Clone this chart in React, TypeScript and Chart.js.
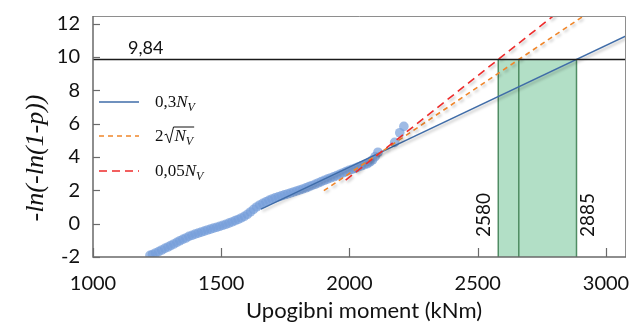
import { useEffect, useRef } from "react";
import { Chart, registerables } from "chart.js";

Chart.register(...registerables);

// Empirical points: bending moment (kNm) vs -ln(-ln(1-p))
const momentX = [
  1222, 1232, 1244, 1256, 1268, 1280, 1292, 1303, 1315, 1327,
  1338, 1350, 1362, 1374, 1386, 1398, 1410, 1422, 1434, 1446,
  1458, 1470, 1482, 1494, 1506, 1518, 1530, 1542, 1554, 1566,
  1578, 1590, 1602, 1614, 1626, 1638, 1650, 1662, 1674, 1686,
  1698, 1710, 1722, 1734, 1746, 1758, 1770, 1782, 1794, 1806,
  1818, 1830, 1842, 1854, 1866, 1878, 1890, 1902, 1914, 1926,
  1938, 1950, 1962, 1974, 1986, 1998, 2010, 2022, 2034, 2046,
  2058, 2070, 2080, 2090, 2100, 2111, 2176, 2196, 2212,
];
const lnY = [
  -1.9, -1.85, -1.76, -1.68, -1.58, -1.48, -1.4, -1.31, -1.22, -1.12,
  -1.03, -0.94, -0.86, -0.76, -0.7, -0.63, -0.57, -0.51, -0.45, -0.38,
  -0.33, -0.27, -0.22, -0.16, -0.1, -0.04, 0.03, 0.1, 0.18, 0.25,
  0.34, 0.44, 0.56, 0.7, 0.86, 1.0, 1.12, 1.22, 1.31, 1.4,
  1.48, 1.55, 1.61, 1.67, 1.73, 1.78, 1.84, 1.9, 1.96, 2.02,
  2.08, 2.15, 2.22, 2.29, 2.36, 2.44, 2.52, 2.6, 2.67, 2.74,
  2.81, 2.88, 2.96, 3.04, 3.12, 3.2, 3.26, 3.32, 3.4, 3.47,
  3.54, 3.6, 3.7, 3.82, 4.02, 4.28, 4.87, 5.45, 5.83,
];

// Fit lines (end points)
const fit03X = [1655, 3078];
const fit03Y = [0.87, 11.25];
const fitSqrtX = [1900, 2920];
const fitSqrtY = [1.98, 12.53];
const fit005X = [1985, 2800];
const fit005Y = [2.61, 12.52];

// Threshold and range
const limitY = 9.84;
const limitLabel = "9,84";
const rangeX = [2580, 2660, 2885];
const rangeLabels = ["2580", "2885"];

// Axes
const xMin = 1000;
const xMax = 3078;
const yMin = -2;
const yMax = 12.45;
const xTicks = [1000, 1500, 2000, 2500, 3000];
const yTicks = [-2, 0, 2, 4, 6, 8, 10, 12];

const xTitle = "Upogibni moment (kNm)";
const yTitle = "-ln(-ln(1-p))";

const SANS = "Lato, 'Open Sans', sans-serif";
const SERIF = "'Liberation Serif', 'DejaVu Serif', serif";

const BLUE = "#3f6ca8";
const ORANGE = "#f0862a";
const RED = "#ee2b2b";
const GREEN_FILL = "#b2dfc6";
const GREEN_LINE = "#4f8c63";

// target plot rectangle
const AREA = { left: 93, top: 16, right: 626, bottom: 257 };

export default function App() {
  const ref = useRef<HTMLCanvasElement>(null);

  useEffect(() => {
    const canvas = ref.current!;
    const seg = (xs: number[], ys: number[]) => xs.map((x, i) => ({ x, y: ys[i] }));

    const shadowPlugin = {
      id: "lineShadow",
      beforeDatasetDraw(chart: any, args: any) {
        const ds = chart.data.datasets[args.index];
        if (ds.shadow) {
          const ctx = chart.ctx;
          ctx.save();
          ctx.shadowColor = "rgba(0,0,0,0.28)";
          ctx.shadowBlur = 3;
          ctx.shadowOffsetX = 1.5;
          ctx.shadowOffsetY = 2;
        }
      },
      afterDatasetDraw(chart: any, args: any) {
        const ds = chart.data.datasets[args.index];
        if (ds.shadow) chart.ctx.restore();
      },
    };

    const drawMathLabel = (
      ctx: CanvasRenderingContext2D,
      x: number,
      y: number,
      kind: string
    ) => {
      const reg = `17px ${SERIF}`;
      const ital = `italic 17px ${SERIF}`;
      const sub = `italic 12px ${SERIF}`;
      ctx.fillStyle = "#111";
      ctx.textAlign = "left";
      ctx.textBaseline = "alphabetic";
      let cx = x;
      const put = (t: string, f: string, dy = 0) => {
        ctx.font = f;
        ctx.fillText(t, cx, y + dy);
        cx += ctx.measureText(t).width;
      };
      if (kind === "sqrt") {
        put("2", reg);
        const rx = cx + 1;
        ctx.strokeStyle = "#111";
        ctx.lineWidth = 1;
        ctx.beginPath();
        ctx.moveTo(rx, y - 6);
        ctx.lineTo(rx + 2, y - 7);
        ctx.lineTo(rx + 5, y + 2);
        ctx.lineTo(rx + 9, y - 14);
        cx = rx + 10;
        put("N", ital);
        put("V", sub, 4);
        ctx.lineTo(cx + 1, y - 14);
        ctx.stroke();
      } else {
        put(kind === "03" ? "0,3" : "0,05", reg);
        put("N", ital);
        put("V", sub, 4);
      }
    };

    const decorPlugin = {
      id: "decor",
      afterDatasetsDraw(chart: any) {
        const { ctx, chartArea: a, scales } = chart;
        const xs = scales.x;
        const ys = scales.y;
        ctx.save();

        // frame
        ctx.lineWidth = 1;
        ctx.strokeStyle = "#8e8e8e";
        ctx.beginPath();
        ctx.moveTo(a.left, a.top + 0.5);
        ctx.lineTo(a.right - 0.5, a.top + 0.5);
        ctx.lineTo(a.right - 0.5, a.bottom);
        ctx.stroke();
        ctx.lineWidth = 1.5;
        ctx.strokeStyle = "#6a6a6a";
        ctx.beginPath();
        ctx.moveTo(a.left, a.top);
        ctx.lineTo(a.left, a.bottom);
        ctx.lineTo(a.right, a.bottom);
        ctx.stroke();

        // inward ticks
        ctx.lineWidth = 1.2;
        for (const v of yTicks) {
          const py = Math.round(ys.getPixelForValue(v)) + 0.5;
          ctx.beginPath();
          ctx.moveTo(a.left, py);
          ctx.lineTo(a.left + 7, py);
          ctx.stroke();
        }
        for (const v of xTicks) {
          const px = Math.round(xs.getPixelForValue(v)) + 0.5;
          ctx.beginPath();
          ctx.moveTo(px, a.bottom);
          ctx.lineTo(px, a.bottom - 9);
          ctx.stroke();
        }

        // threshold label
        ctx.fillStyle = "#111";
        ctx.font = `18px ${SANS}`;
        ctx.textAlign = "left";
        ctx.textBaseline = "alphabetic";
        ctx.fillText(limitLabel, a.left + 35, ys.getPixelForValue(limitY) - 6);

        // rotated range labels
        ctx.font = `19px ${SANS}`;
        ctx.textAlign = "center";
        ctx.textBaseline = "middle";
        const ly = a.bottom - 42;
        const l1 = xs.getPixelForValue(rangeX[0]) - 14;
        const l2 = xs.getPixelForValue(rangeX[2]) + 11;
        for (const [lx, t] of [
          [l1, rangeLabels[0]],
          [l2, rangeLabels[1]],
        ] as [number, string][]) {
          ctx.save();
          ctx.translate(lx, ly);
          ctx.rotate(-Math.PI / 2);
          ctx.fillText(t, 0, 0);
          ctx.restore();
        }

        // legend
        const lx0 = a.left + 6;
        const lx1 = a.left + 46;
        const rows = [
          { y: a.top + 86, c: BLUE, d: [] as number[], w: 1.5, k: "03" },
          { y: a.top + 120, c: ORANGE, d: [5, 4], w: 1.6, k: "sqrt" },
          { y: a.top + 155, c: RED, d: [8, 5], w: 1.6, k: "005" },
        ];
        for (const r of rows) {
          ctx.strokeStyle = r.c;
          ctx.lineWidth = r.w;
          ctx.setLineDash(r.d);
          ctx.beginPath();
          ctx.moveTo(lx0, r.y);
          ctx.lineTo(lx1, r.y);
          ctx.stroke();
          ctx.setLineDash([]);
          drawMathLabel(ctx, a.left + 62, r.y + 5, r.k);
        }

        // axis titles
        ctx.fillStyle = "#111";
        ctx.font = `22px ${SANS}`;
        ctx.textAlign = "center";
        ctx.textBaseline = "alphabetic";
        ctx.fillText(xTitle, 364, 318);

        ctx.save();
        ctx.translate(36, 158);
        ctx.rotate(-Math.PI / 2);
        ctx.font = `italic 26px ${SERIF}`;
        ctx.textBaseline = "middle";
        ctx.fillText(yTitle, 0, 0);
        ctx.restore();

        ctx.restore();
      },
    };

    // force exact plot rectangle
    const areaPlugin = {
      id: "fixArea",
      afterLayout(chart: any) {
        const xs = chart.scales.x;
        const ys = chart.scales.y;
        const ca = chart.chartArea;
        ca.left = AREA.left;
        ca.right = AREA.right;
        ca.top = AREA.top;
        ca.bottom = AREA.bottom;
        ca.width = AREA.right - AREA.left;
        ca.height = AREA.bottom - AREA.top;
        xs.left = AREA.left;
        xs.right = AREA.right;
        xs.width = AREA.right - AREA.left;
        xs.top = AREA.bottom;
        xs.bottom = 325;
        xs.height = 325 - AREA.bottom;
        ys.top = AREA.top;
        ys.bottom = AREA.bottom;
        ys.height = AREA.bottom - AREA.top;
        ys.left = 0;
        ys.right = AREA.left;
        ys.width = AREA.left;
        xs.configure();
        ys.configure();
      },
    };

    const chart = new Chart(canvas, {
      type: "scatter",
      data: {
        datasets: [
          {
            label: "limit",
            data: seg([xMin, xMax], [limitY, limitY]),
            showLine: true,
            borderColor: "#1a1a1a",
            borderWidth: 1.5,
            pointRadius: 0,
            order: 0,
            clip: 0,
          } as any,
          {
            label: "0,3Nv",
            data: seg(fit03X, fit03Y),
            showLine: true,
            borderColor: BLUE,
            borderWidth: 1.5,
            pointRadius: 0,
            order: 3,
            clip: 0,
            shadow: true,
          } as any,
          {
            label: "2sqrtNv",
            data: seg(fitSqrtX, fitSqrtY),
            showLine: true,
            borderColor: ORANGE,
            borderWidth: 1.6,
            borderDash: [5, 4],
            pointRadius: 0,
            order: 2,
            clip: 0,
            shadow: true,
          } as any,
          {
            label: "0,05Nv",
            data: seg(fit005X, fit005Y),
            showLine: true,
            borderColor: RED,
            borderWidth: 1.6,
            borderDash: [8, 5],
            pointRadius: 0,
            order: 1,
            clip: 0,
            shadow: true,
          } as any,
          {
            label: "points",
            data: seg(momentX, lnY),
            showLine: false,
            pointRadius: 4.8,
            pointBorderWidth: 0,
            pointBackgroundColor: "rgba(118,158,218,0.7)",
            pointBorderColor: "rgba(0,0,0,0)",
            order: 4,
          } as any,
          ...rangeX.map((rx, i) => ({
            label: "range" + i,
            data: seg([rx, rx], [yMin, limitY]),
            showLine: true,
            borderColor: GREEN_LINE,
            borderWidth: 1.5,
            pointRadius: 0,
            order: 5,
            clip: 0,
          })),
          {
            label: "rangeFill",
            data: seg([rangeX[0], rangeX[2]], [limitY, limitY]),
            showLine: true,
            borderWidth: 0,
            borderColor: "rgba(0,0,0,0)",
            backgroundColor: GREEN_FILL,
            fill: "start",
            pointRadius: 0,
            order: 6,
            clip: 0,
          } as any,
        ],
      },
      options: {
        animation: false,
        responsive: false,
        devicePixelRatio: 1,
        layout: { padding: { left: 0, top: 16, right: 6, bottom: 0 } },
        plugins: {
          legend: { display: false },
          tooltip: { enabled: false },
        },
        scales: {
          x: {
            type: "linear",
            min: xMin,
            max: xMax,
            grid: { display: false, drawTicks: false },
            border: { display: false },
            afterBuildTicks: (s: any) => {
              s.ticks = xTicks.map((v) => ({ value: v }));
            },
            afterFit: (s: any) => {
              s.height = 68;
            },
            ticks: {
              padding: 15,
              color: "#111",
              font: { family: SANS, size: 20 },
              maxRotation: 0,
              autoSkip: false,
              callback: (v: any) => String(v),
            },
          },
          y: {
            type: "linear",
            min: yMin,
            max: yMax,
            grid: { display: false, drawTicks: false },
            border: { display: false },
            afterBuildTicks: (s: any) => {
              s.ticks = yTicks.map((v) => ({ value: v }));
            },
            afterFit: (s: any) => {
              s.width = 93;
            },
            ticks: {
              padding: 13,
              color: "#111",
              font: { family: SANS, size: 20 },
              autoSkip: false,
              callback: (v: any) => String(v),
            },
          },
        },
      },
      plugins: [areaPlugin, shadowPlugin, decorPlugin],
    } as any);

    return () => chart.destroy();
  }, []);

  return (
    <div style={{ position: "absolute", left: 0, top: 0, width: 632, height: 325 }}>
      <canvas ref={ref} width={632} height={325} style={{ display: "block", width: 632, height: 325 }} />
    </div>
  );
}
